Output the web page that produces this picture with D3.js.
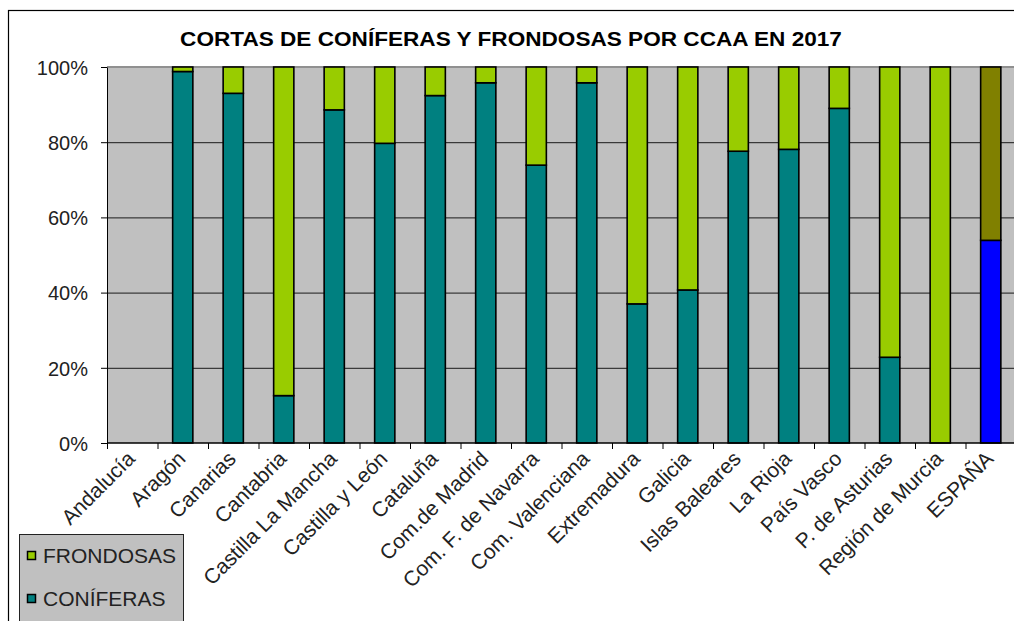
<!DOCTYPE html>
<html>
<head>
<meta charset="utf-8">
<script src="https://cdn.jsdelivr.net/npm/d3@7"></script>
<style>
  body { margin: 0; background: #fff; }
  text { font-family: "Liberation Sans", Arial, sans-serif; fill: #222; }
</style>
</head>
<body>
<script>
// categories (CCAA) and shares of each type, in %
const regions = ["Andalucía", "Aragón", "Canarias", "Cantabria", "Castilla La Mancha",
  "Castilla y León", "Cataluña", "Com.de Madrid", "Com. F. de Navarra", "Com. Valenciana",
  "Extremadura", "Galicia", "Islas Baleares", "La Rioja", "País Vasco",
  "P. de Asturias", "Región de Murcia", "ESPAÑA"];
const coniferas = [0, 98.8, 93.0, 12.6, 88.6, 79.7, 92.4, 95.8, 73.9, 95.8,
  37.0, 40.7, 77.6, 78.1, 89.0, 22.8, 0, 53.9];
const frondosas = [0, 1.2, 7.0, 87.4, 11.4, 20.3, 7.6, 4.2, 26.1, 4.2,
  63.0, 59.3, 22.4, 21.9, 11.0, 77.2, 100, 46.1];
const yTicks = [0, 20, 40, 60, 80, 100];

const W = 1014, H = 621;
const margin = { top: 67, left: 107 };
const plotW = 909, plotH = 376;

const svg = d3.select("body").append("svg")
  .attr("width", W).attr("height", H);

// outer chart frame
svg.append("rect")
  .attr("x", 8.5).attr("y", 10.5)
  .attr("width", W + 20).attr("height", H + 20)
  .attr("fill", "#fff").attr("stroke", "#000").attr("stroke-width", 1.2);

// title (source text is a bit wider than the font, so stretch it)
svg.append("text")
  .attr("transform", "translate(511,46) scale(1.13,1)")
  .attr("text-anchor", "middle")
  .style("font-size", "20px").style("font-weight", "bold")
  .style("fill", "#000")
  .text("CORTAS DE CONÍFERAS Y FRONDOSAS POR CCAA EN 2017");

const g = svg.append("g")
  .attr("transform", "translate(" + margin.left + "," + margin.top + ")");

const x = d3.scaleBand()
  .domain(regions)
  .range([0, plotW])
  .paddingInner(0.6).paddingOuter(0.3);

const y = d3.scaleLinear().domain([0, 100]).range([plotH, 0]);

// plot background
g.append("rect")
  .attr("width", plotW).attr("height", plotH)
  .attr("fill", "#c0c0c0");

// gridlines
g.selectAll(".grid").data(yTicks.slice(1, -1)).enter()
  .append("line")
  .attr("x1", 0).attr("x2", plotW)
  .attr("y1", d => y(d) + 0.5).attr("y2", d => y(d) + 0.5)
  .attr("stroke", "#1a1a1a").attr("stroke-width", 1);

// top border of plot (grey)
g.append("line")
  .attr("x1", 0).attr("x2", plotW).attr("y1", 0).attr("y2", 0)
  .attr("stroke", "#909090").attr("stroke-width", 2);

// stacked data
const rows = regions.map((r, i) => ({ region: r, con: coniferas[i], fro: frondosas[i] }));
const stack = d3.stack().keys(["con", "fro"]);
const series = stack(rows);

function fillFor(key, region) {
  if (region === "ESPAÑA") return key === "con" ? "#0000ff" : "#808000";
  return key === "con" ? "#008080" : "#99cc00";
}

g.selectAll(".series").data(series).enter()
  .append("g")
  .selectAll("rect")
  .data(s => s.map(d => ({ key: s.key, d: d })))
  .enter()
  .filter(e => e.d[1] - e.d[0] > 0)
  .append("rect")
  .attr("x", e => x(e.d.data.region))
  .attr("width", x.bandwidth())
  .attr("y", e => y(e.d[1]))
  .attr("height", e => y(e.d[0]) - y(e.d[1]))
  .attr("fill", e => fillFor(e.key, e.d.data.region))
  .attr("stroke", "#000").attr("stroke-width", 1.6);

// y axis
const yAxis = g.append("g")
  .call(d3.axisLeft(y).tickValues(yTicks).tickFormat(d => d + "%").tickSize(6).tickSizeOuter(0));
yAxis.select(".domain").attr("stroke", "#000");
yAxis.selectAll(".tick line").attr("stroke", "#000");
yAxis.selectAll("text")
  .attr("x", -19).attr("dy", "0.36em")
  .style("font-size", "20px").style("font-family", "Liberation Sans, Arial, sans-serif")
  .style("fill", "#222");

// x axis with ticks between categories
const xAxis = g.append("g")
  .attr("transform", "translate(0," + plotH + ")");
xAxis.append("line")
  .attr("x1", 0).attr("x2", plotW)
  .attr("stroke", "#000").attr("stroke-width", 1.4);
const step = x.step();
const bounds = d3.range(regions.length + 1).map(i => i * step);
xAxis.selectAll(".xt").data(bounds).enter()
  .append("line")
  .attr("x1", d => d + 0.5).attr("x2", d => d + 0.5)
  .attr("y1", 0).attr("y2", 6)
  .attr("stroke", "#000");

xAxis.selectAll(".xl").data(regions).enter()
  .append("text")
  .attr("text-anchor", "end")
  .attr("transform", d => "translate(" + (x(d) + x.bandwidth() / 2 + 4) + ",17) rotate(-45)")
  .style("font-size", "21px")
  .text(d => d);

// legend
const legend = svg.append("g").attr("transform", "translate(19,534)");
legend.append("rect")
  .attr("x", 0.5).attr("y", 0.5).attr("width", 164).attr("height", 120)
  .attr("fill", "#c0c0c0").attr("stroke", "#222").attr("stroke-width", 1);
const legItems = [["FRONDOSAS", "#99cc00"], ["CONÍFERAS", "#008080"]];
const li = legend.selectAll(".li").data(legItems).enter()
  .append("g")
  .attr("transform", (d, i) => "translate(0," + (29 + i * 43) + ")");
li.append("rect")
  .attr("x", 8.5).attr("y", -11.5).attr("width", 8).attr("height", 8)
  .attr("fill", d => d[1]).attr("stroke", "#000").attr("stroke-width", 1.5);
li.append("text")
  .attr("x", 24).attr("y", 0)
  .style("font-size", "21px")
  .text(d => d[0]);
</script>
</body>
</html>
